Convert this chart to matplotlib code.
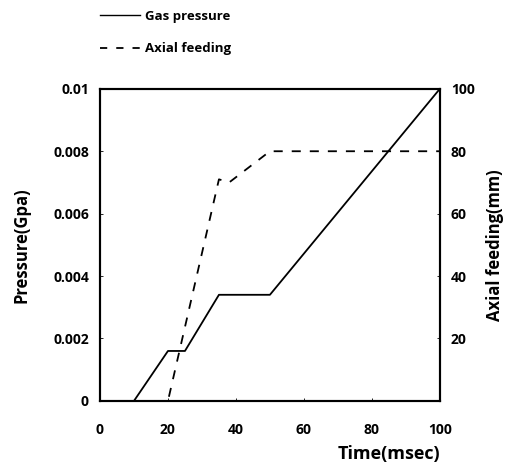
import matplotlib
matplotlib.use("Agg")
import matplotlib.pyplot as plt
from matplotlib.lines import Line2D

plt.rcParams['font.family'] = ['Open Sans', 'DejaVu Sans']

time_gas = [0, 10, 20, 25, 35, 50, 100]
gas_pressure = [0, 0, 0.0016, 0.0016, 0.0034, 0.0034, 0.01]
time_feed = [0, 20, 35, 38, 50, 100]
axial_feeding = [0, 0, 71, 70, 80, 80]

x_ticks = [0, 20, 40, 60, 80, 100]
left_ticks = [0, 0.002, 0.004, 0.006, 0.008, 0.01]
left_labels = ['0', '0.002', '0.004', '0.006', '0.008', '0.01']
right_ticks = [20, 40, 60, 80, 100]

fig = plt.figure(figsize=(5.05, 4.75), dpi=100)
ax = fig.add_axes([0.198, 0.156, 0.673, 0.657])
ax.plot(time_gas, gas_pressure, color='black', lw=1.3)
ax.set_xlim(0, 100)
ax.set_ylim(0, 0.01)
ax.set_xticks(x_ticks)
ax.set_yticks(left_ticks)
ax.set_yticklabels(left_labels)
ax.tick_params(direction='in', length=2, width=0.6, labelsize=10, pad=8)
for lab in ax.get_xticklabels() + ax.get_yticklabels():
    lab.set_fontweight('bold')
ax.tick_params(axis='x', pad=16)
ax.set_ylabel('Pressure(Gpa)', fontsize=12, fontweight='bold', labelpad=16)
ax.set_xlabel('Time(msec)', fontsize=13, fontweight='bold', loc='right', labelpad=6)

ax2 = ax.twinx()
ax2.plot(time_feed, axial_feeding, color='black', lw=1.3, ls=(0, (5, 5)))
ax2.set_ylim(0, 100)
ax2.set_yticks(right_ticks)
ax2.tick_params(direction='in', length=2, width=0.6, labelsize=10, pad=8)
for lab in ax2.get_yticklabels():
    lab.set_fontweight('bold')
ax2.set_ylabel('Axial feeding(mm)', fontsize=12, fontweight='bold', labelpad=8)

for a in (ax, ax2):
    for s in a.spines.values():
        s.set_linewidth(1.5)

handles = [Line2D([0], [0], color='black', lw=1.0),
           Line2D([0], [0], color='black', lw=1.3, ls=(0, (4, 5)))]
fig.legend(handles, ['Gas pressure', 'Axial feeding'], loc='upper left',
           bbox_to_anchor=(0.175, 1.005), frameon=False, handlelength=3.0,
           prop={'weight': 'bold', 'size': 9.5}, labelspacing=1.5, handletextpad=0.4)

fig.savefig('out.png', dpi=100)
